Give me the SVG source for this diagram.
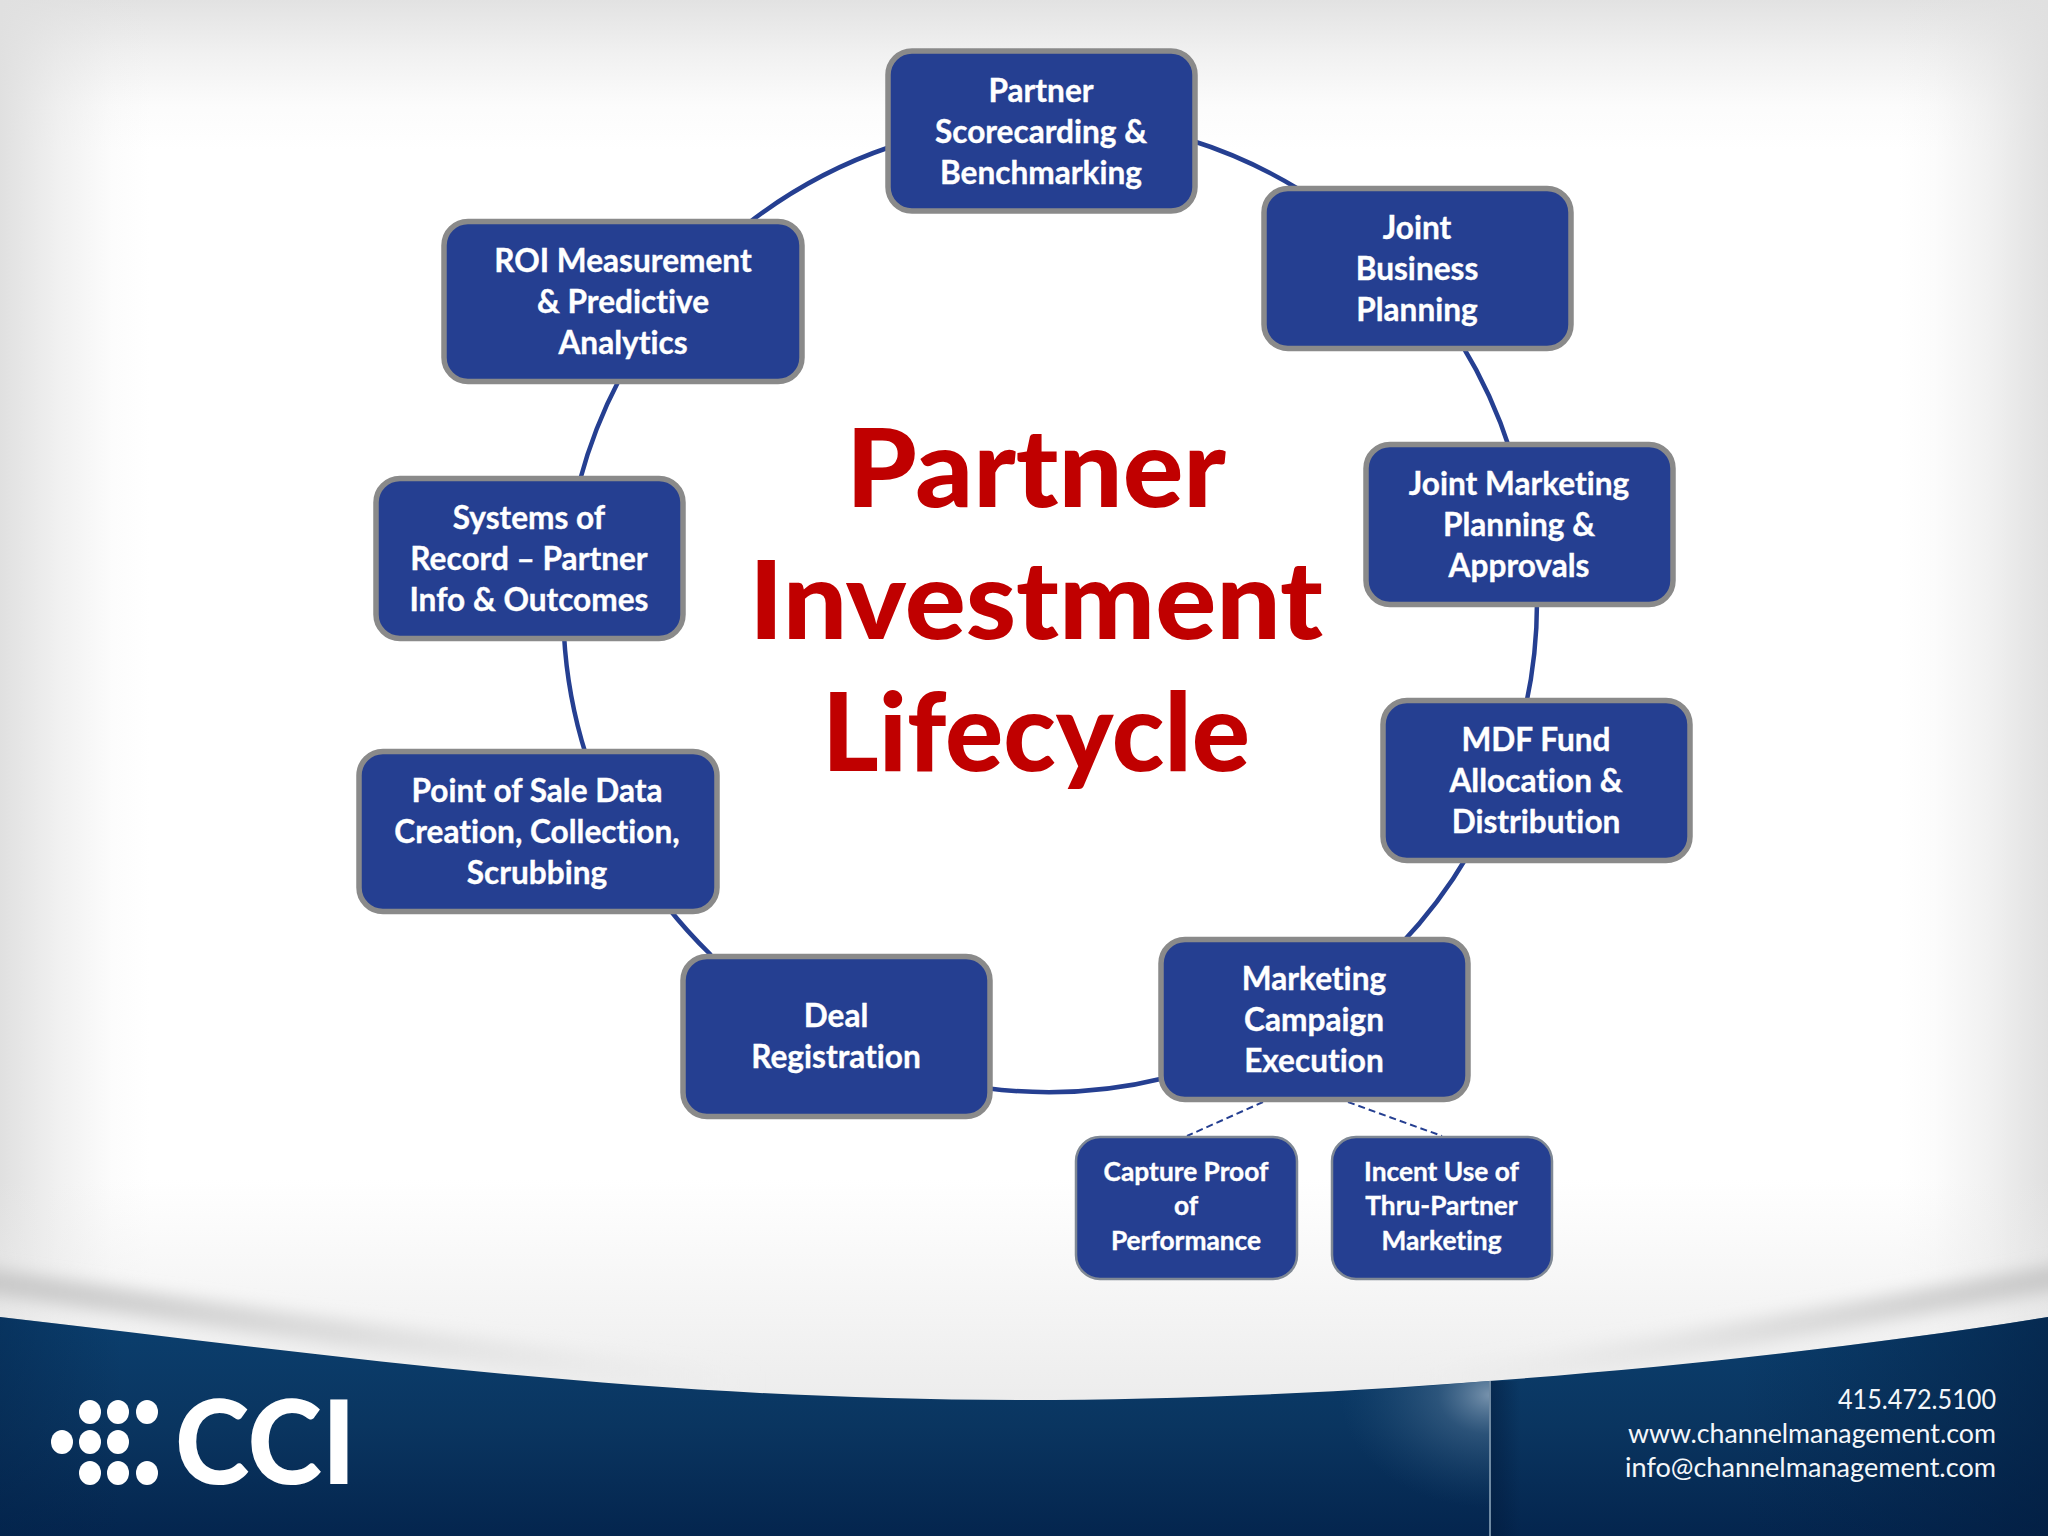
<svg xmlns="http://www.w3.org/2000/svg" width="2048" height="1536" viewBox="0 0 2048 1536">
<defs>
<linearGradient id="topFade" x1="0" y1="0" x2="0" y2="1"><stop offset="0" stop-color="#e2e2e2"/><stop offset="0.35" stop-color="#e2e2e2" stop-opacity="0.5"/><stop offset="0.7" stop-color="#e2e2e2" stop-opacity="0.12"/><stop offset="1" stop-color="#e2e2e2" stop-opacity="0"/></linearGradient>
<linearGradient id="leftFade" x1="0" y1="0" x2="1" y2="0"><stop offset="0" stop-color="#e0e0e0"/><stop offset="0.4" stop-color="#e0e0e0" stop-opacity="0.45"/><stop offset="0.75" stop-color="#e0e0e0" stop-opacity="0.1"/><stop offset="1" stop-color="#e0e0e0" stop-opacity="0"/></linearGradient>
<linearGradient id="rightFade" x1="1" y1="0" x2="0" y2="0"><stop offset="0" stop-color="#e0e0e0"/><stop offset="0.4" stop-color="#e0e0e0" stop-opacity="0.45"/><stop offset="0.75" stop-color="#e0e0e0" stop-opacity="0.1"/><stop offset="1" stop-color="#e0e0e0" stop-opacity="0"/></linearGradient>
<linearGradient id="lowFade" x1="0" y1="0" x2="0" y2="1"><stop offset="0" stop-color="#ececec" stop-opacity="0"/><stop offset="1" stop-color="#ececec"/></linearGradient>
<linearGradient id="band" x1="0" y1="0" x2="0" y2="1"><stop offset="0" stop-color="#0b3f6e"/><stop offset="0.5" stop-color="#0a3560"/><stop offset="1" stop-color="#04254e"/></linearGradient>
<linearGradient id="bandEdge" x1="0" y1="0" x2="1" y2="0"><stop offset="0" stop-color="#03234a" stop-opacity="0.4"/><stop offset="0.06" stop-color="#03234a" stop-opacity="0"/><stop offset="0.85" stop-color="#03234a" stop-opacity="0"/><stop offset="1" stop-color="#021c3e" stop-opacity="0.6"/></linearGradient>
<radialGradient id="glow" gradientUnits="userSpaceOnUse" cx="1490" cy="1395" r="150" gradientTransform="translate(1490 1395) scale(1 0.75) translate(-1490 -1395)"><stop offset="0" stop-color="#8ba3ba" stop-opacity="0.85"/><stop offset="0.35" stop-color="#5d7f9e" stop-opacity="0.4"/><stop offset="1" stop-color="#2d5a80" stop-opacity="0"/></radialGradient>
<linearGradient id="lineShade" x1="0" y1="0" x2="1" y2="0"><stop offset="0" stop-color="#02193a" stop-opacity="0.5"/><stop offset="1" stop-color="#02193a" stop-opacity="0"/></linearGradient>
<linearGradient id="ridgeL" gradientUnits="userSpaceOnUse" x1="0" y1="0" x2="760" y2="0"><stop offset="0" stop-color="#c9c9c9"/><stop offset="0.45" stop-color="#dcdcdc"/><stop offset="1" stop-color="#e8e8e8" stop-opacity="0"/></linearGradient>
<linearGradient id="ridgeR" gradientUnits="userSpaceOnUse" x1="2048" y1="0" x2="1400" y2="0"><stop offset="0" stop-color="#c9c9c9"/><stop offset="0.45" stop-color="#dedede"/><stop offset="1" stop-color="#e8e8e8" stop-opacity="0"/></linearGradient>
<filter id="blur" filterUnits="userSpaceOnUse" x="-100" y="1200" width="2250" height="300"><feGaussianBlur stdDeviation="8"/></filter>
<clipPath id="aboveBand"><path d="M0 0H2048V1317C1750 1365 1350 1400 1024 1400C640 1400 330 1355 0 1317Z"/></clipPath>
<clipPath id="glowClip"><path d="M1300 1536V1394L1400 1388L1489 1381V1536Z"/></clipPath>
</defs>
<style>
.box{fill:#253f91;stroke:#8a8a8a;stroke-width:5.5}
.sub{fill:#253f91;stroke:#7f8894;stroke-width:2.5}
.t{font-family:"Lato","Carlito","Liberation Sans",sans-serif;font-weight:700;font-variant-ligatures:none;fill:#fff;stroke:#fff;stroke-width:.35;text-anchor:middle;font-size:31.6px}
.s{font-size:26.3px}
.title{font-family:"Lato","Carlito","Liberation Sans",sans-serif;font-weight:900;font-variant-ligatures:none;fill:#c00000;text-anchor:middle;font-size:108px}
.c{font-family:"Lato","Carlito","Liberation Sans",sans-serif;font-weight:400;font-variant-ligatures:none;fill:#f4f7fa;text-anchor:end;font-size:26px}
.arc{fill:none;stroke:#253f91;stroke-width:4.5}
.dash{fill:none;stroke:#253f91;stroke-width:2;stroke-dasharray:7 4}
</style>
<g id="background">
<rect width="2048" height="1536" fill="#fff"/>
<rect width="2048" height="150" fill="url(#topFade)"/>
<rect width="150" height="1400" fill="url(#leftFade)"/>
<rect x="1898" width="150" height="1400" fill="url(#rightFade)"/>
<rect y="1180" width="2048" height="225" fill="url(#lowFade)"/>
<g clip-path="url(#aboveBand)">
<path d="M-40 1277C120 1300 320 1335 760 1385" fill="none" stroke="url(#ridgeL)" stroke-width="26" filter="url(#blur)"/>
<path d="M2088 1272C1900 1305 1650 1355 1400 1385" fill="none" stroke="url(#ridgeR)" stroke-width="26" filter="url(#blur)"/>
</g>
<path d="M0 1317C330 1355 640 1400 1024 1400C1350 1400 1750 1365 2048 1317V1536H0Z" fill="url(#band)"/>
<path d="M0 1317C330 1355 640 1400 1024 1400C1350 1400 1750 1365 2048 1317V1536H0Z" fill="url(#bandEdge)"/>
<g clip-path="url(#glowClip)"><rect x="1300" y="1370" width="190" height="166" fill="url(#glow)"/></g>
<rect x="1491" y="1381" width="30" height="155" fill="url(#lineShade)"/>
<rect x="1489" y="1381" width="2" height="155" fill="#6f8aa3"/>
</g>
<g id="logo" fill="#fff">
<ellipse cx="90" cy="1412" rx="11" ry="12"/><ellipse cx="118" cy="1412" rx="11" ry="12"/><ellipse cx="147" cy="1412" rx="11" ry="12"/>
<ellipse cx="62" cy="1442" rx="11" ry="12"/><ellipse cx="90" cy="1442" rx="11" ry="12"/><ellipse cx="118" cy="1442" rx="11" ry="12"/>
<ellipse cx="90" cy="1473" rx="11" ry="12"/><ellipse cx="118" cy="1473" rx="11" ry="12"/><ellipse cx="147" cy="1473" rx="11" ry="12"/>
<text x="175" y="1484" font-family="Lato, 'Liberation Sans', sans-serif" font-weight="900" font-size="117" textLength="181" lengthAdjust="spacingAndGlyphs">CCI</text>
</g>
<g id="contact">
<text class="c" x="1996" y="1409" textLength="158" lengthAdjust="spacingAndGlyphs">415.472.5100</text>
<text class="c" x="1996" y="1443" textLength="368" lengthAdjust="spacingAndGlyphs">www.channelmanagement.com</text>
<text class="c" x="1996" y="1477" textLength="371" lengthAdjust="spacingAndGlyphs">info@channelmanagement.com</text>
</g>
<g id="connectors">
<path class="arc" d="M1190 140A486 486 0 0 1 1300 190"/>
<path class="arc" d="M1462 345A486 486 0 0 1 1510 450"/>
<path class="arc" d="M1537 600A486 486 0 0 1 1526 705"/>
<path class="arc" d="M1468 855A486 486 0 0 1 1400 945"/>
<path class="arc" d="M1165 1078A486 486 0 0 1 985 1088"/>
<path class="arc" d="M711 955A486 486 0 0 1 666 905"/>
<path class="arc" d="M586 755A486 486 0 0 1 564 635"/>
<path class="arc" d="M580 480A486 486 0 0 1 619 380"/>
<path class="arc" d="M746 225A486 486 0 0 1 890 147"/>
<path class="dash" d="M1263 1102L1187 1136"/>
<path class="dash" d="M1348 1102L1442 1136"/>
</g>
<g id="node-scorecarding"><rect class="box" x="888" y="51" width="307" height="160" rx="24"/><text class="t" x="1041" y="101.500">Partner</text><text class="t" x="1041" y="142.500">Scorecarding &amp;</text><text class="t" x="1041" y="183.500">Benchmarking</text></g>
<g id="node-jbp"><rect class="box" x="1264" y="188.500" width="307" height="160" rx="24"/><text class="t" x="1417" y="238.500">Joint</text><text class="t" x="1417" y="279.500">Business</text><text class="t" x="1417" y="320.500">Planning</text></g>
<g id="node-jmp"><rect class="box" x="1366" y="444.500" width="307" height="160" rx="24"/><text class="t" x="1519" y="494.500">Joint Marketing</text><text class="t" x="1519" y="535.500">Planning &amp;</text><text class="t" x="1519" y="576.500">Approvals</text></g>
<g id="node-mdf"><rect class="box" x="1383" y="700.500" width="307" height="160" rx="24"/><text class="t" x="1536" y="750.500">MDF Fund</text><text class="t" x="1536" y="791.500">Allocation &amp;</text><text class="t" x="1536" y="832.500">Distribution</text></g>
<g id="node-campaign"><rect class="box" x="1161" y="939.500" width="307" height="160" rx="24"/><text class="t" x="1314" y="989.500">Marketing</text><text class="t" x="1314" y="1030.500">Campaign</text><text class="t" x="1314" y="1071.500">Execution</text></g>
<g id="node-deal"><rect class="box" x="683" y="956.500" width="307" height="160" rx="24"/><text class="t" x="836" y="1026.500">Deal</text><text class="t" x="836" y="1067.500">Registration</text></g>
<g id="node-pos"><rect class="box" x="359" y="751.500" width="358" height="160" rx="24"/><text class="t" x="537" y="801.500">Point of Sale Data</text><text class="t" x="537" y="842.500">Creation, Collection,</text><text class="t" x="537" y="883.500">Scrubbing</text></g>
<g id="node-systems"><rect class="box" x="376" y="478.500" width="307" height="160" rx="24"/><text class="t" x="529" y="528.500">Systems of</text><text class="t" x="529" y="569.500">Record – Partner</text><text class="t" x="529" y="610.500">Info &amp; Outcomes</text></g>
<g id="node-roi"><rect class="box" x="444" y="221.500" width="358" height="160" rx="24"/><text class="t" x="623" y="271.500">ROI Measurement</text><text class="t" x="623" y="312.500">&amp; Predictive</text><text class="t" x="623" y="353.500">Analytics</text></g>
<g id="node-proof"><rect class="sub" x="1076" y="1137" width="221" height="142" rx="24"/><text class="t s" x="1186" y="1180.500">Capture Proof</text><text class="t s" x="1186" y="1214.500">of</text><text class="t s" x="1186" y="1249.500">Performance</text></g>
<g id="node-incent"><rect class="sub" x="1332" y="1137" width="220" height="142" rx="24"/><text class="t s" x="1441.500" y="1180.500">Incent Use of</text><text class="t s" x="1441.500" y="1214.500">Thru-Partner</text><text class="t s" x="1441.500" y="1249.500">Marketing</text></g>
<g id="title">
<text class="title" x="1036" y="507" textLength="380" lengthAdjust="spacingAndGlyphs">Partner</text>
<text class="title" x="1036" y="639" textLength="574" lengthAdjust="spacingAndGlyphs">Investment</text>
<text class="title" x="1036" y="771" textLength="428" lengthAdjust="spacingAndGlyphs">Lifecycle</text>
</g>
</svg>
